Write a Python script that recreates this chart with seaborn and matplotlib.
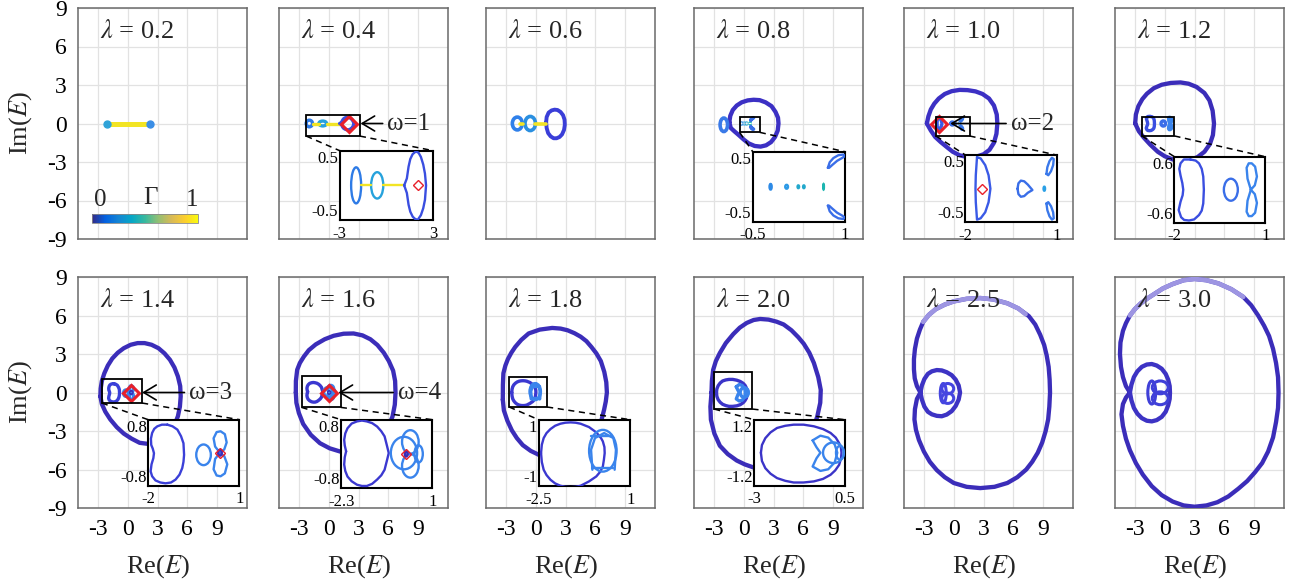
import matplotlib
matplotlib.use("Agg")
import matplotlib.pyplot as plt
import seaborn as sns
from matplotlib.patches import Ellipse, Rectangle
from matplotlib.colors import LinearSegmentedColormap, Normalize
from matplotlib.cm import ScalarMappable

# ---------------- data ----------------
lambdas = ["0.2", "0.4", "0.6", "0.8", "1.0", "1.2", "1.4", "1.6", "1.8", "2.0", "2.5", "3.0"]
x_ticks = [-3, 0, 3, 6, 9]
y_ticks = [-9, -6, -3, 0, 3, 6, 9]
x_ticklabels = ["-3", "0", "3", "6", "9"]
y_ticklabels = ["-9", "-6", "-3", "0", "3", "6", "9"]

# parula colour anchors (for the colour bar)
parula_anchors = ["#352a87", "#0362e1", "#1485d4", "#06a7c6", "#38b99e",
                  "#92bf73", "#d9ba56", "#fcce2e", "#f9fb0e"]

# lambda = 0.2
l02_bar = [(-2.1, 0.0), (2.2, 0.0)]
l02_dots = [(-2.1, 0.0), (2.2, 0.0)]

# lambda = 0.4 (inset window x[-3,3], y[-0.5,0.5])
l04_ell_xy = [(-1.95, 0.0), (-0.6, 0.0)]
l04_ell_w = [0.64, 0.78]
l04_ell_h = [0.52, 0.38]
l04_yel_a = [(-1.63, 0.0), (-0.99, 0.0)]
l04_yel_b = [(-0.21, 0.0), (1.13, 0.0)]
l04_right = [(1.13, 0.0), (1.3, 0.1), (1.41, 0.27), (1.52, 0.38), (1.67, 0.45), (1.88, 0.49), (2.05, 0.47),
             (2.2, 0.41), (2.35, 0.3), (2.46, 0.17), (2.53, 0.0), (2.46, -0.21), (2.35, -0.33), (2.2, -0.43),
             (1.99, -0.5), (1.8, -0.48), (1.67, -0.45), (1.52, -0.38), (1.41, -0.28), (1.3, -0.11), (1.13, 0.0)]
l04_diamond = (2.0, 0.0)

# lambda = 0.6
l06_ell_xy = [(-1.85, 0.0), (-0.55, 0.0)]
l06_ell_w = [1.0, 1.05]
l06_ell_h = [1.0, 1.1]
l06_big = [(1.05, 0.1), (1.1, 0.5), (1.3, 0.85), (1.6, 1.02), (1.9, 1.08), (2.2, 1.05), (2.5, 0.9),
           (2.75, 0.65), (2.9, 0.3), (2.93, -0.1), (2.85, -0.5), (2.65, -0.85), (2.4, -1.05),
           (2.1, -1.15), (1.8, -1.15), (1.5, -1.0), (1.25, -0.75), (1.1, -0.35), (1.05, 0.1)]
l06_yel_a = [(-1.6, 0.0), (-1.3, 0.0)]
l06_yel_b = [(-0.05, 0.0), (1.0, 0.0)]

# lambda = 0.8
l08_main = [(-1.45, 0.1), (-1.35, 0.6), (-1.1, 1.05), (-0.7, 1.4), (-0.2, 1.65), (0.4, 1.8), (1.0, 1.85),
            (1.6, 1.82), (2.2, 1.65), (2.8, 1.35), (3.2, 0.9), (3.45, 0.45), (3.5, 0.0), (3.42, -0.55),
            (3.15, -1.05), (2.75, -1.45), (2.25, -1.7), (1.7, -1.8), (1.1, -1.75), (0.5, -1.55),
            (0.0, -1.25), (-0.5, -0.9), (-0.95, -0.6), (-1.3, -0.35), (-1.45, 0.1)]
l08_ring_xy = (-2.0, -0.1)
l08_ring_wh = (0.75, 1.05)
l08_dot_xy = [(-0.21, 0.0), (0.05, 0.0), (0.24, 0.0), (0.33, 0.0), (0.65, 0.0)]
l08_dot_w = [0.035, 0.045, 0.025, 0.025, 0.012]
l08_dot_h = [0.08, 0.055, 0.04, 0.04, 0.08]
l08_arc_up = [(0.72, 0.27), (0.75, 0.35), (0.81, 0.41), (0.89, 0.45), (0.97, 0.46), (1.0, 0.44),
              (0.95, 0.41), (0.87, 0.37), (0.79, 0.31), (0.74, 0.27), (0.72, 0.27)]
l08_arc_dn = [(0.72, -0.27), (0.75, -0.35), (0.81, -0.41), (0.89, -0.45), (0.97, -0.46), (1.0, -0.44),
              (0.95, -0.41), (0.87, -0.37), (0.79, -0.31), (0.74, -0.27), (0.72, -0.27)]

# lambda = 1.0
l10_main = [(-2.7, 0.0), (-2.55, 0.55), (-2.3, 1.1), (-1.95, 1.55), (-1.5, 1.95), (-0.9, 2.3), (-0.2, 2.52),
            (0.6, 2.62), (1.4, 2.6), (2.2, 2.5), (2.9, 2.3), (3.55, 1.95), (4.05, 1.4), (4.33, 0.7),
            (4.39, 0.0), (4.3, -0.8), (4.05, -1.5), (3.6, -2.05), (3.0, -2.4), (2.2, -2.6), (1.4, -2.62),
            (0.6, -2.48), (-0.1, -2.2), (-0.67, -1.85), (-1.3, -1.45), (-1.86, -1.05), (-2.3, -0.55),
            (-2.7, 0.0)]
l10_cres = [(-1.62, 0.47), (-1.5, 0.45), (-1.35, 0.35), (-1.24, 0.2), (-1.18, 0.0), (-1.24, -0.2),
            (-1.35, -0.35), (-1.5, -0.44), (-1.62, -0.46), (-1.66, -0.2), (-1.67, 0.0), (-1.66, 0.2),
            (-1.62, 0.47)]
l10_drop = [(-0.29, 0.0), (-0.26, 0.08), (-0.18, 0.12), (-0.07, 0.11), (0.05, 0.06), (0.2, -0.02),
            (0.05, -0.06), (-0.07, -0.11), (-0.18, -0.12), (-0.26, -0.08), (-0.29, 0.0)]
l10_dot = (0.59, 0.0)
l10_up = [(0.66, 0.22), (0.69, 0.32), (0.76, 0.41), (0.84, 0.46), (0.9, 0.44), (0.88, 0.35),
          (0.81, 0.26), (0.72, 0.2), (0.66, 0.22)]
l10_dn = [(0.66, -0.22), (0.69, -0.32), (0.76, -0.41), (0.84, -0.46), (0.9, -0.44), (0.88, -0.35),
          (0.81, -0.26), (0.72, -0.2), (0.66, -0.22)]
l10_diamond = (-1.44, 0.0)

# lambda = 1.2
l12_main = [(-2.97, 0.0), (-2.9, 0.7), (-2.65, 1.35), (-2.25, 1.9), (-1.79, 2.32), (-1.1, 2.75), (-0.3, 3.02),
            (0.6, 3.16), (1.59, 3.2), (2.4, 3.1), (3.2, 2.85), (3.99, 2.38), (4.5, 1.8), (4.82, 1.0),
            (4.96, 0.0), (4.85, -0.9), (4.55, -1.6), (4.0, -2.2), (3.3, -2.62), (2.5, -2.85), (1.6, -2.92),
            (0.8, -2.8), (0.0, -2.55), (-0.7, -2.2), (-1.45, -1.65), (-2.1, -1.1), (-2.6, -0.6), (-2.97, 0.0)]
l12_bean = [(-1.47, 0.55), (-1.3, 0.53), (-1.19, 0.48), (-1.1, 0.38), (-1.05, 0.24), (-1.03, 0.0),
            (-1.05, -0.25), (-1.1, -0.38), (-1.19, -0.46), (-1.35, -0.54), (-1.52, -0.56), (-1.68, -0.55),
            (-1.78, -0.5), (-1.86, -0.37), (-1.8, -0.22), (-1.73, -0.1), (-1.71, 0.0), (-1.74, 0.12),
            (-1.8, 0.26), (-1.84, 0.38), (-1.8, 0.48), (-1.69, 0.55), (-1.47, 0.55)]
l12_circ_xy = (-0.14, 0.0)
l12_circ_wh = (0.46, 0.4)
l12_up = [(0.52, 0.0), (0.41, 0.2), (0.38, 0.4), (0.45, 0.48), (0.55, 0.48), (0.66, 0.42),
          (0.72, 0.24), (0.65, 0.08), (0.52, 0.0)]
l12_dn = [(0.52, 0.0), (0.41, -0.2), (0.38, -0.4), (0.45, -0.48), (0.55, -0.48), (0.66, -0.42),
          (0.72, -0.24), (0.65, -0.08), (0.52, 0.0)]

# lambda = 1.4
l14_main = [(-2.75, -0.3), (-2.72, 0.3), (-2.6, 0.9), (-2.35, 1.5), (-2.0, 2.1), (-1.55, 2.65), (-1.0, 3.1),
            (-0.4, 3.45), (0.3, 3.72), (1.0, 3.85), (1.7, 3.85), (2.4, 3.72), (3.1, 3.45), (3.7, 3.05),
            (4.25, 2.55), (4.7, 1.95), (5.05, 1.25), (5.28, 0.5), (5.33, -0.3), (5.25, -1.1), (5.05, -1.85),
            (4.7, -2.55), (4.2, -3.15), (3.55, -3.6), (2.8, -3.9), (2.0, -4.0), (1.2, -3.92), (0.4, -3.6),
            (-0.4, -3.2), (-1.1, -2.7), (-1.75, -2.1), (-2.25, -1.5), (-2.6, -0.9), (-2.75, -0.3)]
l14_bean = [(-1.37, 0.68), (-1.2, 0.64), (-1.04, 0.56), (-0.92, 0.4), (-0.84, 0.23), (-0.82, -0.05),
            (-0.84, -0.22), (-0.88, -0.37), (-0.97, -0.53), (-1.1, -0.65), (-1.25, -0.72), (-1.43, -0.74),
            (-1.6, -0.72), (-1.76, -0.67), (-1.87, -0.57), (-1.92, -0.45), (-1.89, -0.28), (-1.83, -0.13),
            (-1.81, -0.01), (-1.85, 0.1), (-1.9, 0.19), (-1.91, 0.34), (-1.87, 0.48), (-1.8, 0.58),
            (-1.7, 0.64), (-1.55, 0.68), (-1.37, 0.68)]
l14_circ_xy = (-0.18, -0.05)
l14_circ_wh = (0.48, 0.5)
l14_up = [(0.36, 0.0), (0.2, 0.15), (0.15, 0.35), (0.25, 0.5), (0.38, 0.52), (0.52, 0.45),
          (0.58, 0.25), (0.5, 0.08), (0.36, 0.0)]
l14_dn = [(0.36, 0.0), (0.2, -0.15), (0.15, -0.4), (0.25, -0.55), (0.38, -0.57), (0.52, -0.5),
          (0.6, -0.28), (0.5, -0.08), (0.36, 0.0)]
l14_ring_wh = (0.12, 0.14)
l14_diamond = (0.36, 0.0)

# lambda = 1.6
l16_main = [(-3.31, 0.0), (-3.3, 0.9), (-3.17, 1.77), (-2.9, 2.3), (-2.5, 2.8), (-2.0, 3.3), (-1.3, 3.75),
            (-0.4, 4.15), (0.5, 4.42), (1.5, 4.58), (2.5, 4.6), (3.4, 4.45), (4.19, 4.15), (4.9, 3.7),
            (5.54, 3.1), (6.05, 2.45), (6.48, 1.7), (6.68, 0.9), (6.72, 0.0), (6.65, -0.95), (6.42, -1.87),
            (6.0, -2.65), (5.4, -3.35), (4.6, -3.95), (3.6, -4.4), (2.4, -4.62), (1.15, -4.6), (0.1, -4.35),
            (-0.88, -3.95), (-1.8, -3.3), (-2.57, -2.45), (-3.0, -1.6), (-3.25, -0.8), (-3.31, 0.0)]
l16_heart = [(-2.12, 0.06), (-2.17, 0.2), (-2.19, 0.33), (-2.15, 0.48), (-2.07, 0.6), (-1.92, 0.71),
             (-1.73, 0.76), (-1.55, 0.78), (-1.37, 0.76), (-1.18, 0.72), (-1.0, 0.64), (-0.85, 0.53),
             (-0.73, 0.41), (-0.64, 0.18), (-0.58, 0.02), (-0.64, -0.14), (-0.73, -0.37), (-0.85, -0.5),
             (-1.0, -0.6), (-1.18, -0.7), (-1.37, -0.75), (-1.55, -0.75), (-1.73, -0.72), (-1.92, -0.64),
             (-2.07, -0.53), (-2.15, -0.4), (-2.19, -0.25), (-2.17, -0.08), (-2.12, 0.06)]
l16_ell_xy = [(-0.03, 0.02), (0.2, 0.28), (0.2, -0.28), (0.5, 0.0)]
l16_ell_w = [0.95, 0.6, 0.6, 0.3]
l16_ell_h = [0.76, 0.55, 0.55, 0.4]
l16_ring_wh = (0.1, 0.12)
l16_diamond = (0.05, 0.0)

# lambda = 1.8
l18_main = [(-3.31, -0.56), (-3.3, 0.6), (-3.25, 1.5), (-3.05, 2.1), (-2.8, 2.6), (-2.45, 3.1), (-2.06, 3.55),
            (-1.45, 4.1), (-0.71, 4.6), (0.4, 4.9), (1.66, 5.03), (2.5, 4.98), (3.2, 4.85), (3.9, 4.62),
            (4.52, 4.35), (5.1, 4.0), (5.6, 3.55), (6.1, 3.05), (6.55, 2.45), (6.9, 1.6), (7.1, 0.8),
            (7.16, 0.0), (7.05, -0.7), (6.88, -1.34), (6.6, -2.2), (6.3, -2.9), (5.7, -3.7), (4.9, -4.35),
            (4.0, -4.8), (3.0, -5.08), (2.0, -5.12), (1.0, -5.0), (0.3, -4.85), (-0.5, -4.55), (-1.3, -4.1),
            (-1.9, -3.55), (-2.4, -2.95), (-2.85, -2.2), (-3.2, -1.4), (-3.31, -0.56)]
l18_bulb = [(-2.41, 0.0), (-2.38, 0.25), (-2.31, 0.45), (-2.2, 0.6), (-2.05, 0.72), (-1.87, 0.82), (-1.67, 0.88),
            (-1.48, 0.91), (-1.28, 0.92), (-1.09, 0.91), (-0.9, 0.88), (-0.58, 0.78), (-0.3, 0.62),
            (-0.12, 0.45), (-0.05, 0.35), (0.01, 0.18), (0.02, 0.0), (-0.01, -0.2), (-0.05, -0.4),
            (-0.15, -0.56), (-0.3, -0.7), (-0.58, -0.85), (-0.9, -0.98), (-1.09, -1.01), (-1.28, -1.02),
            (-1.48, -1.01), (-1.67, -0.98), (-1.87, -0.91), (-2.05, -0.8), (-2.2, -0.66), (-2.31, -0.5),
            (-2.38, -0.27), (-2.41, 0.0)]
l18_onion_xy = (-0.05, 0.07)
l18_onion_wh = (1.05, 1.25)
l18_arch = [(-0.45, -0.5), (-0.5, 0.1), (-0.35, 0.45), (0.0, 0.6), (0.35, 0.45), (0.45, 0.1), (0.4, -0.5)]
l18_bar_up = [(-0.5, 0.5), (0.3, 0.5)]
l18_bar_dn = [(-0.45, -0.45), (0.35, -0.45)]

# lambda = 2.0
l20_main = [(-3.24, 0.0), (-3.2, 0.9), (-3.07, 1.77), (-2.8, 2.45), (-2.4, 3.08), (-1.8, 3.85), (-1.05, 4.55),
            (-0.4, 5.05), (0.3, 5.42), (1.0, 5.65), (1.66, 5.73), (2.5, 5.68), (3.3, 5.52), (4.02, 5.3),
            (4.8, 4.85), (5.5, 4.3), (6.04, 3.8), (6.6, 3.1), (7.06, 2.3), (7.5, 1.2), (7.75, 0.2),
            (7.7, -0.8), (7.4, -1.87), (7.0, -2.8), (6.5, -3.6), (5.8, -4.4), (5.0, -5.05), (4.0, -5.6),
            (3.0, -5.95), (2.0, -6.0), (0.98, -5.84), (0.1, -5.6), (-0.7, -5.3), (-1.6, -4.8),
            (-2.4, -4.15), (-2.95, -3.2), (-3.3, -2.12), (-3.35, -1.1), (-3.24, 0.0)]
l20_egg = [(-2.74, 0.0), (-2.7, 0.28), (-2.57, 0.53), (-2.37, 0.74), (-2.12, 0.9), (-1.8, 0.98), (-1.48, 1.02),
           (-1.1, 1.02), (-0.7, 0.96), (-0.35, 0.86), (-0.06, 0.72), (0.14, 0.55), (0.27, 0.35), (0.34, 0.18),
           (0.36, 0.0), (0.34, -0.22), (0.27, -0.44), (0.12, -0.64), (-0.06, -0.8), (-0.35, -0.95),
           (-0.7, -1.04), (-1.1, -1.08), (-1.48, -1.08), (-1.8, -1.02), (-2.12, -0.92), (-2.37, -0.76),
           (-2.57, -0.56), (-2.7, -0.3), (-2.74, 0.0)]
l20_heart = [(-0.75, 0.45), (-0.45, 0.62), (-0.15, 0.55), (0.1, 0.3), (0.2, 0.0), (0.1, -0.35),
             (-0.15, -0.6), (-0.45, -0.66), (-0.75, -0.5), (-0.6, -0.2), (-0.45, 0.0), (-0.6, 0.2),
             (-0.75, 0.45)]
l20_ell_xy = [(0.05, 0.0), (0.3, 0.0)]
l20_ell_w = [0.8, 0.3]
l20_ell_h = [0.75, 0.5]

# lambda = 2.5
l25_outer = [(-3.35, 0.0), (-3.7, 0.5), (-3.92, 1.1), (-4.0, 1.8), (-4.0, 2.6), (-3.9, 3.4), (-3.7, 4.2),
             (-3.4, 4.9), (-3.07, 5.5), (-2.5, 6.05), (-1.8, 6.5), (-0.9, 6.85), (0.0, 7.1), (1.3, 7.3),
             (2.67, 7.36), (4.0, 7.25), (5.4, 6.95), (6.5, 6.55), (7.56, 5.95), (8.2, 5.3), (8.7, 4.5),
             (9.1, 3.7), (9.35, 2.9), (9.55, 2.0), (9.65, 1.0), (9.69, 0.0), (9.62, -1.1), (9.5, -2.1),
             (9.25, -3.0), (8.9, -3.9), (8.45, -4.7), (7.9, -5.4), (7.3, -6.0), (6.4, -6.6), (5.4, -7.05),
             (4.1, -7.35), (2.67, -7.45), (1.3, -7.35), (0.0, -7.05), (-0.9, -6.6), (-1.7, -6.05),
             (-2.4, -5.4), (-3.0, -4.6), (-3.5, -3.7), (-3.8, -2.9), (-3.95, -2.1), (-3.9, -1.3),
             (-3.7, -0.5), (-3.35, 0.0)]
l25_light = [(-3.07, 5.5), (-2.5, 6.05), (-1.8, 6.5), (-0.9, 6.85), (0.0, 7.1), (1.3, 7.3), (2.67, 7.36),
             (4.0, 7.25), (5.4, 6.95), (6.5, 6.55), (7.23, 6.1)]
l25_inner = [(-3.35, 0.0), (-3.2, 0.55), (-2.95, 1.05), (-2.6, 1.45), (-2.2, 1.65), (-1.7, 1.75), (-1.2, 1.72),
             (-0.7, 1.58), (-0.2, 1.35), (0.2, 1.0), (0.5, 0.55), (0.64, 0.0), (0.5, -0.55), (0.2, -1.05),
             (-0.2, -1.45), (-0.7, -1.72), (-1.2, -1.85), (-1.7, -1.82), (-2.2, -1.7), (-2.6, -1.5),
             (-2.95, -1.1), (-3.2, -0.55), (-3.35, 0.0)]
l25_tiny_xy = [(-0.6, 0.3), (-0.6, -0.45), (-1.05, -0.05)]
l25_tiny_w = [1.2, 1.2, 0.6]
l25_tiny_h = [0.8, 0.8, 1.5]

# lambda = 3.0
l30_outer = [(-3.5, 0.0), (-3.9, 0.5), (-4.2, 1.2), (-4.4, 2.0), (-4.5, 3.0), (-4.45, 3.9), (-4.2, 4.8),
             (-3.9, 5.4), (-3.5, 6.0), (-3.0, 6.5), (-2.4, 6.95), (-1.7, 7.35), (-1.0, 7.7), (-0.2, 8.1),
             (0.8, 8.45), (1.9, 8.75), (3.0, 8.85), (4.2, 8.75), (5.4, 8.5), (6.7, 8.05), (7.9, 7.45),
             (8.7, 6.8), (9.4, 6.0), (10.0, 5.2), (10.5, 4.4), (10.9, 3.4), (11.2, 2.3), (11.4, 1.2),
             (11.45, 0.0), (11.4, -1.2), (11.2, -2.3), (10.9, -3.5), (10.4, -4.6), (9.8, -5.5), (9.1, -6.2),
             (8.3, -6.9), (7.4, -7.5), (6.4, -8.1), (5.3, -8.55), (4.2, -8.8), (3.0, -8.9), (1.9, -8.8),
             (0.8, -8.5), (-0.3, -8.0), (-1.3, -7.3), (-2.2, -6.4), (-2.9, -5.5), (-3.5, -4.5), (-3.9, -3.6),
             (-4.2, -2.6), (-4.35, -1.7), (-4.2, -0.9), (-3.9, -0.4), (-3.5, 0.0)]
l30_light = [(-3.5, 6.0), (-3.0, 6.5), (-2.4, 6.95), (-1.7, 7.35), (-1.0, 7.7), (-0.2, 8.1), (0.8, 8.45),
             (1.9, 8.75), (3.0, 8.85), (4.2, 8.75), (5.4, 8.5), (6.7, 8.05), (7.9, 7.45)]
l30_inner = [(-3.5, 0.0), (-3.35, 0.6), (-3.1, 1.2), (-2.75, 1.65), (-2.3, 2.0), (-1.8, 2.18), (-1.3, 2.22),
             (-0.8, 2.1), (-0.3, 1.85), (0.1, 1.45), (0.35, 1.0), (0.5, 0.5), (0.53, 0.0), (0.5, -0.5),
             (0.35, -1.0), (0.1, -1.5), (-0.3, -1.9), (-0.8, -2.15), (-1.3, -2.25), (-1.8, -2.2),
             (-2.3, -2.0), (-2.75, -1.65), (-3.1, -1.2), (-3.35, -0.6), (-3.5, 0.0)]
l30_tiny_xy = [(-0.45, 0.4), (-0.45, -0.45), (-1.3, 0.0)]
l30_tiny_w = [1.6, 1.6, 0.8]
l30_tiny_h = [1.0, 1.0, 1.8]

# inset windows: [x0, y0, w, h] in main data coords, zoom ranges, and boxes in main view
inset_rects = {1: [1.11, -7.52, 9.42, 5.4], 3: [0.91, -7.66, 9.29, 5.46], 4: [1.18, -7.7, 9.19, 5.24],
               5: [0.98, -7.73, 9.15, 5.14], 6: [2.06, -7.27, 9.18, 5.15], 7: [1.25, -7.45, 9.19, 5.33],
               8: [0.3, -7.32, 9.22, 5.2], 9: [1.05, -7.27, 9.15, 5.15]}
inset_xlim = {1: (-3, 3), 3: (-0.5, 1), 4: (-2, 1), 5: (-2, 1), 6: (-2, 1), 7: (-2.3, 1), 8: (-2.5, 1), 9: (-3, 0.5)}
inset_ylim = {1: (-0.5, 0.5), 3: (-0.5, 0.5), 4: (-0.5, 0.5), 5: (-0.6, 0.6), 6: (-0.8, 0.8),
              7: (-0.8, 0.8), 8: (-1, 1), 9: (-1.2, 1.2)}
inset_xlabels = {1: ["-3", "3"], 3: ["-0.5", "1"], 4: ["-2", "1"], 5: ["-2", "1"], 6: ["-2", "1"],
                 7: ["-2.3", "1"], 8: ["-2.5", "1"], 9: ["-3", "0.5"]}
inset_ylabels = {1: ["-0.5", "0.5"], 3: ["-0.5", "0.5"], 4: ["-0.5", "0.5"], 5: ["-0.6", "0.6"],
                 6: ["-0.8", "0.8"], 7: ["-0.8", "0.8"], 8: ["-1", "1"], 9: ["-1.2", "1.2"]}
zoom_boxes = {1: [-2.26, -0.98, 5.4, 1.64], 3: [-0.41, -0.69, 2.03, 1.22], 4: [-1.79, -0.97, 3.38, 1.5],
              5: [-2.3, -0.97, 3.28, 1.5], 6: [-2.6, -0.82, 4.05, 1.89], 7: [-2.73, -1.16, 3.95, 2.41],
              8: [-2.67, -1.13, 3.82, 2.33], 9: [-2.97, -1.29, 3.85, 2.85]}
# omega arrows: panel -> (tip x, text x, label)
omega_arrows = {1: (3.2, 5.9, "ω=1"), 4: (-0.34, 5.74, "ω=2"), 6: (1.45, 6.18, "ω=3"), 7: (0.98, 6.96, "ω=4")}

# ---------------- style ----------------
DARK = "#3b2db9"
DARK2 = "#3c30c4"
MID = "#3a4ee0"
BLUE = "#3a6ee8"
LIGHT = "#3a84ec"
TEAL = "#26a2dc"
YEL = "#f2e424"
LAV = "#9d95e2"
RED = "#e8202a"

sns.set_theme(style="whitegrid")
plt.rcParams["font.family"] = ["Liberation Serif", "DejaVu Serif"]
plt.rcParams["mathtext.fontset"] = "stix"
plt.rcParams["axes.unicode_minus"] = False

W, H = 1294, 585
fig = plt.figure(figsize=(W / 100, H / 100), dpi=100)
lefts = [78, 279, 486, 694, 904, 1115]
tops = [8, 277]
pw, ph = 169, 231


def curve(ax, pts, color, lw, z=3):
    xs = [p[0] for p in pts]
    ys = [p[1] for p in pts]
    sns.lineplot(x=xs, y=ys, sort=False, estimator=None, color=color, linewidth=lw, ax=ax,
                 solid_joinstyle="round", solid_capstyle="round", zorder=z)


def ell(ax, xy, w, h, color, lw, fill=False, z=3):
    ax.add_patch(Ellipse(xy, w, h, fill=fill, facecolor=color if fill else "none",
                         edgecolor=color, linewidth=lw, zorder=z))


def diamond(ax, xy, ms, mew, z=6):
    ax.plot([xy[0]], [xy[1]], marker="D", ms=ms, mfc="none", mec=RED, mew=mew, ls="none", zorder=z)


def draw_zoom_content(ax, i, lw, ms, mew):
    """Curves that are shown magnified in the inset (also drawn, small, in the main view)."""
    if i == 1:
        for xy, w, h, c in zip(l04_ell_xy, l04_ell_w, l04_ell_h, ["#2e7be6", TEAL]):
            ell(ax, xy, w, h, c, lw)
        curve(ax, l04_yel_a, YEL, lw)
        curve(ax, l04_yel_b, YEL, lw)
        curve(ax, l04_right, MID, lw)
        diamond(ax, l04_diamond, ms, mew)
    elif i == 3:
        for xy, w, h, c in zip(l08_dot_xy, l08_dot_w, l08_dot_h,
                               ["#2d8ae6", "#2d9ae6", "#22a8cc", "#22a8cc", "#1cb5b0"]):
            ell(ax, xy, w, h, c, lw)
        curve(ax, l08_arc_up, BLUE, lw)
        curve(ax, l08_arc_dn, BLUE, lw)
    elif i == 4:
        curve(ax, l10_cres, "#3a5ae6", lw)
        curve(ax, l10_drop, BLUE, lw)
        ell(ax, l10_dot, 0.05, 0.06, "#2aa0e6", lw)
        curve(ax, l10_up, "#3a78ea", lw)
        curve(ax, l10_dn, "#3a78ea", lw)
        diamond(ax, l10_diamond, ms, mew)
    elif i == 5:
        curve(ax, l12_bean, MID, lw)
        ell(ax, l12_circ_xy, l12_circ_wh[0], l12_circ_wh[1], BLUE, lw)
        curve(ax, l12_up, LIGHT, lw)
        curve(ax, l12_dn, LIGHT, lw)
    elif i == 6:
        curve(ax, l14_bean, "#3b40d8", lw)
        ell(ax, l14_circ_xy, l14_circ_wh[0], l14_circ_wh[1], LIGHT, lw)
        curve(ax, l14_up, LIGHT, lw)
        curve(ax, l14_dn, LIGHT, lw)
        ell(ax, l14_diamond, l14_ring_wh[0], l14_ring_wh[1], DARK, lw)
        diamond(ax, l14_diamond, ms, mew)
    elif i == 7:
        curve(ax, l16_heart, "#3b38d0", lw)
        for xy, w, h in zip(l16_ell_xy, l16_ell_w, l16_ell_h):
            ell(ax, xy, w, h, LIGHT, lw)
        ell(ax, l16_diamond, l16_ring_wh[0], l16_ring_wh[1], DARK, lw)
        diamond(ax, l16_diamond, ms, mew)
    elif i == 8:
        curve(ax, l18_bulb, "#3b38d0", lw)
        ell(ax, l18_onion_xy, l18_onion_wh[0], l18_onion_wh[1], LIGHT, lw)
        curve(ax, l18_arch, LIGHT, lw)
        curve(ax, l18_bar_up, LIGHT, lw)
        curve(ax, l18_bar_dn, LIGHT, lw)
    elif i == 9:
        curve(ax, l20_egg, "#3b34c8", lw)
        curve(ax, l20_heart, LIGHT, lw)
        for xy, w, h in zip(l20_ell_xy, l20_ell_w, l20_ell_h):
            ell(ax, xy, w, h, LIGHT, lw)


parula = LinearSegmentedColormap.from_list("parula", parula_anchors)
BIG = 3.1
SMALL = 2.4

for i, lam in enumerate(lambdas):
    r, c = divmod(i, 6)
    L, T = lefts[c], tops[r]
    ax = fig.add_axes([L / W, 1 - (T + ph) / H, pw / W, ph / H])
    ax.set_xlim(-5, 12)
    ax.set_ylim(-9, 9)
    ax.set_xticks(x_ticks)
    ax.set_yticks(y_ticks)
    ax.set_xticklabels(x_ticklabels if r == 1 else [])
    ax.set_yticklabels(y_ticklabels if c == 0 else [])
    ax.tick_params(length=0, pad=8, labelsize=17, colors="black")
    ax.grid(True, color="#e2e2e2", linewidth=0.9)
    ax.set_axisbelow(True)
    for s in ax.spines.values():
        s.set_color("#6a6a6a")
        s.set_linewidth(1.1)

    if i == 0:
        curve(ax, l02_bar, YEL, 3.6)
        ax.plot([l02_dots[0][0]], [l02_dots[0][1]], "o", ms=5, color="#2fa3d8", zorder=4)
        ax.plot([l02_dots[1][0]], [l02_dots[1][1]], "o", ms=5, color="#3a8ee6", zorder=4)
        cax = ax.inset_axes([-3.6, -7.72, 10.7, 0.7], transform=ax.transData)
        cb = fig.colorbar(ScalarMappable(norm=Normalize(0, 1), cmap=parula), cax=cax, orientation="horizontal")
        cax.set_xticks([])
        cb.outline.set_linewidth(0.6)
        cb.outline.set_edgecolor("#888888")
        ax.text(-2.8, -6.0, "0", ha="center", va="center", fontsize=18)
        ax.text(2.3, -5.8, "Γ", ha="center", va="center", fontsize=18)
        ax.text(6.5, -6.0, "1", ha="center", va="center", fontsize=18)
    elif i == 2:
        for xy, w, h, col in zip(l06_ell_xy, l06_ell_w, l06_ell_h, ["#2f80ea", "#2a8fe0"]):
            ell(ax, xy, w, h, col, 2.6)
        curve(ax, l06_big, "#3a3ed8", 2.8)
        curve(ax, l06_yel_a, YEL, 2.6)
        curve(ax, l06_yel_b, YEL, 2.6)
    elif i == 3:
        curve(ax, l08_main, DARK2, BIG)
        ell(ax, l08_ring_xy, l08_ring_wh[0], l08_ring_wh[1], "#3a7ae8", 2.6)
    elif i == 4:
        curve(ax, l10_main, DARK2, BIG)
    elif i == 5:
        curve(ax, l12_main, DARK, BIG)
    elif i == 6:
        curve(ax, l14_main, DARK, BIG)
    elif i == 7:
        curve(ax, l16_main, DARK, BIG)
    elif i == 8:
        curve(ax, l18_main, DARK, BIG)
    elif i == 9:
        curve(ax, l20_main, DARK, BIG)
    elif i == 10:
        curve(ax, l25_outer, DARK, BIG)
        curve(ax, l25_light, LAV, BIG + 0.2, z=4)
        curve(ax, l25_inner, "#3d33c4", BIG)
        for xy, w, h in zip(l25_tiny_xy, l25_tiny_w, l25_tiny_h):
            ell(ax, xy, w, h, "#4545e0", 2.2)
    elif i == 11:
        curve(ax, l30_outer, DARK, BIG)
        curve(ax, l30_light, LAV, BIG + 0.2, z=4)
        curve(ax, l30_inner, "#3d33c4", BIG)
        for xy, w, h in zip(l30_tiny_xy, l30_tiny_w, l30_tiny_h):
            ell(ax, xy, w, h, "#4040d8", 2.2)

    if i in inset_rects:
        draw_zoom_content(ax, i, SMALL, 8, 2.2)
        bx = zoom_boxes[i]
        ax.add_patch(Rectangle((bx[0], bx[1]), bx[2], bx[3], fill=False, edgecolor="black",
                               linewidth=1.3, zorder=7))
        rc = inset_rects[i]
        ax.plot([bx[0], rc[0]], [bx[1], rc[1] + rc[3]], ls=(0, (4, 3)), color="black", lw=1.1, zorder=7)
        ax.plot([bx[0] + bx[2], rc[0] + rc[2]], [bx[1], rc[1] + rc[3]], ls=(0, (4, 3)), color="black",
                lw=1.1, zorder=7)
        axi = ax.inset_axes(rc, transform=ax.transData, zorder=8)
        axi.set_facecolor("white")
        axi.grid(False)
        draw_zoom_content(axi, i, 1.7, 5, 1.0)
        axi.set_xlim(*inset_xlim[i])
        axi.set_ylim(*inset_ylim[i])
        axi.set_xticks(list(inset_xlim[i]))
        axi.set_xticklabels(inset_xlabels[i])
        axi.set_yticks(list(inset_ylim[i]))
        axi.set_yticklabels(inset_ylabels[i])
        axi.tick_params(length=0, labelsize=12, colors="black")
        axi.tick_params(axis="x", pad=4)
        axi.tick_params(axis="y", pad=1)
        ylabs = axi.get_yticklabels()
        ylabs[0].set_va("bottom")
        ylabs[-1].set_va("top")
        axi.set_xlabel("")
        axi.set_ylabel("")
        for s in axi.spines.values():
            s.set_color("black")
            s.set_linewidth(1.5)

    if i in omega_arrows:
        tip, tx, lab = omega_arrows[i]
        ax.annotate(lab, xy=(tip, 0), xytext=(tx, 0), fontsize=18, va="center", ha="left", zorder=9,
                    arrowprops=dict(arrowstyle="->,head_length=0.5,head_width=0.3", color="black",
                                    lw=1.2, shrinkA=1, shrinkB=0))

    ax.text(-2.8, 7.15, r"$\lambda$ = " + lam, fontsize=19, ha="left", va="center", zorder=10)
    ax.set_xlabel("")
    ax.set_ylabel("")
    ax.set_xlim(-5, 12)
    ax.set_ylim(-9, 9)

    if c == 0:
        fig.text(21 / W, 1 - (T + ph / 2) / H, "Im($E$)", rotation=90, ha="center", va="center", fontsize=19)
    if r == 1:
        cx = L + (3 + 5) / 17 * pw
        fig.text(cx / W, 1 - 567 / H, "Re($E$)", ha="center", va="center", fontsize=19)

fig.savefig("out.png", dpi=100)
